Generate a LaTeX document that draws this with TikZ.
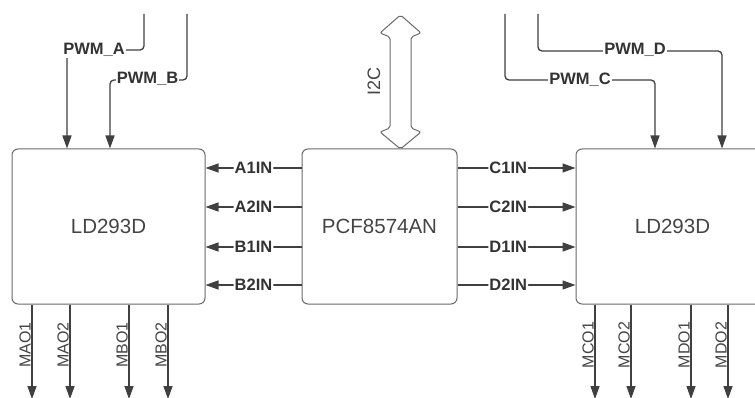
\documentclass[tikz,border=0pt]{standalone}
\usepackage{fontspec}
\setmainfont{Liberation Sans}
\usetikzlibrary{arrows.meta,calc}
\definecolor{linec}{HTML}{404040}
\definecolor{boxc}{HTML}{6A6A6A}
\definecolor{txtc}{HTML}{333333}
\definecolor{boxtxt}{HTML}{444444}
\tikzset{
  chip/.style={draw=boxc, line width=1pt, rounded corners=6pt, fill=white,
    inner sep=0pt, text=boxtxt, font=\fontsize{20.5}{24}\selectfont},
  sig/.style={draw=linec, line width=1.3pt, rounded corners=4pt,
    -{Triangle[width=9pt,length=13pt]}},
  lbl/.style={fill=white, inner sep=1pt, text=txtc,
    font=\fontsize{16.5}{19}\selectfont\bfseries},
  vlbl/.style={rotate=90, anchor=south, inner sep=1pt, text=boxtxt,
    font=\fontsize{16}{18}\selectfont},
}
\begin{document}
\begin{tikzpicture}[x=1pt,y=-1pt]
\clip (0,0) rectangle (755,398);
\fill[white] (0,0) rectangle (755,398);

% chips
\node[chip, minimum width=193pt, minimum height=155pt] (L) at (108.5,226.5) {LD293D};
\node[chip, minimum width=155pt, minimum height=155pt] (M) at (379.5,226.5) {PCF8574AN};
\node[chip, minimum width=193pt, minimum height=155pt] (R) at (672.5,226.5) {LD293D};

% I2C bus double arrow
\draw[draw=boxc, line width=1pt, fill=white, rounded corners=2pt, line join=round]
  (400.5,15) -- (421,33) -- (411,37) -- (411,128) -- (421,132) -- (400.5,149)
  -- (380,132) -- (390,128) -- (390,37) -- (380,33) -- cycle;
\node[rotate=90, inner sep=0pt, text=boxtxt, font=\fontsize{18}{20}\selectfont]
  (i2c) at (374,81.5) {I2C};

% control lines from the expander
\foreach \y/\a/\c [count=\i] in {168/A1IN/C1IN, 207/A2IN/C2IN, 247/B1IN/D1IN, 285/B2IN/D2IN}{
  \draw[sig] (M.west |- 0,\y) -- node[lbl, pos=0.5] {\a} (L.east |- 0,\y);
  \draw[sig] (M.east |- 0,\y) -- node[lbl, pos=0.43] {\c} (R.west |- 0,\y);
}

% PWM inputs
\coordinate (pa) at (144,14);
\coordinate (pb) at (187,14);
\coordinate (pc) at (505,14);
\coordinate (pd) at (538,14);
\draw[sig] (pa) -- (144,50) -- (67,50) -- (L.north -| 67,0);
\draw[sig] (pb) -- (187,80) -- (110,80) -- (L.north -| 110,0);
\draw[sig] (pc) -- (505,80) -- (655,80) -- (R.north -| 655,0);
\draw[sig] (pd) -- (538,51) -- (722,51) -- (R.north -| 722,0);
\node[lbl] (lpa) at (94,50) {PWM\_A};
\node[lbl] (lpb) at (147.5,79) {PWM\_B};
\node[lbl] (lpc) at (580,80) {PWM\_C};
\node[lbl] (lpd) at (635,50) {PWM\_D};

% motor outputs
\foreach \x/\t in {32/MAO1, 70/MAO2, 129/MBO1, 168/MBO2}{
  \coordinate (o\t) at (\x,399);
  \draw[sig] (L.south -| \x,0) -- (o\t);
  \node[vlbl] at (\x,345) {\t};
}
\foreach \x/\t in {595/MCO1, 631/MCO2, 691/MDO1, 728/MDO2}{
  \coordinate (o\t) at (\x,399);
  \draw[sig] (R.south -| \x,0) -- (o\t);
  \node[vlbl] at (\x,345) {\t};
}
\end{tikzpicture}
\end{document}
